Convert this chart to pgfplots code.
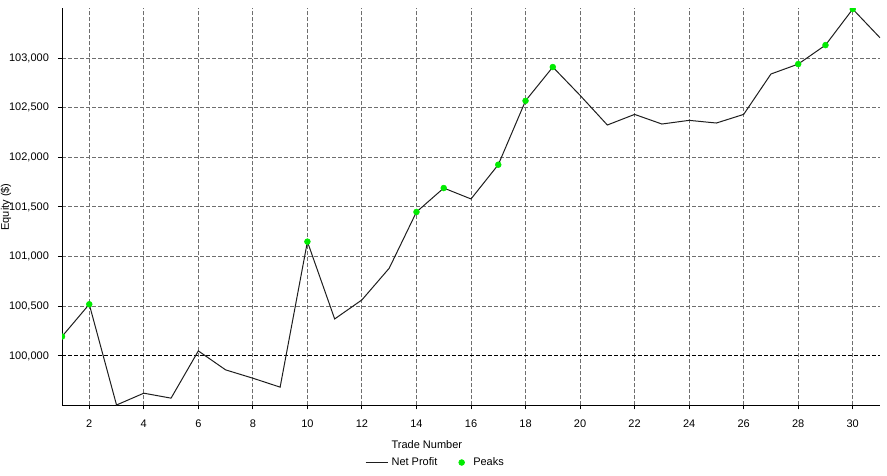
\documentclass[border=0pt]{standalone}
\usepackage{fontspec}
\setmainfont{Liberation Sans}
\usepackage{pgfplots}
\pgfplotsset{compat=1.18}
\definecolor{gridgray}{RGB}{110,110,110}
\definecolor{peakgreen}{RGB}{0,235,0}
\definecolor{linecol}{RGB}{30,30,30}
\begin{document}
\begin{tikzpicture}
\begin{axis}[
  name=ax, scale only axis, width=613.5pt, height=297.75pt,
  xmin=1, xmax=31, ymin=99500, ymax=103500,
  xtick={2,4,...,30}, ytick={100000,100500,...,103000},
  axis x line=bottom, axis y line=left,
  axis line style={-, black, line width=0.75pt},
  tick align=outside, major tick length=3pt,
  tick style={black, line width=0.75pt},
  grid=major,
  major grid style={gridgray, line width=0.75pt, dash pattern=on 3pt off 1.5pt},
  scaled y ticks=false,
  y tick label style={/pgf/number format/fixed, /pgf/number format/1000 sep={,}},
  /pgf/number format/assume math mode=true,
  ticklabel style={font=\fontsize{8.25}{10}\selectfont},
  y tick label style={xshift=-3.3pt},
  x tick label style={yshift=-4.5pt},
  label style={font=\fontsize{8.25}{10}\selectfont},
  xlabel={Trade Number},
  xlabel style={at={(axis description cs:0.446,-0.098)}, anchor=center},
  ylabel={Equity (\$)},
  ylabel style={at={(axis description cs:-0.0752,0.5)}, anchor=north, inner sep=0pt},
  clip marker paths=true,
  legend columns=2,
  legend style={at={(0.457,-0.1436)}, anchor=center, draw=none, fill=none,
    font=\fontsize{8.25}{10}\selectfont, inner sep=0pt,
    /tikz/every even column/.append style={column sep=14pt}},
  legend cell align=left,
]
\addplot[black, line width=0.75pt, dash pattern=on 3pt off 1.5pt, forget plot] coordinates {(1,100000) (31,100000)};
\addplot[linecol, line width=0.75pt, mark=none] coordinates {
(1,100195) (2,100520) (3,99505) (4,99624) (5,99574) (6,100050) (7,99859) (8,99775)
(9,99685) (10,101151) (11,100372) (12,100564) (13,100883) (14,101450) (15,101691)
(16,101581) (17,101926) (18,102570) (19,102910) (20,102625) (21,102326) (22,102433)
(23,102336) (24,102373) (25,102346) (26,102433) (27,102840) (28,102940) (29,103131)
(30,103494) (31,103205)};
\addlegendentry{Net Profit}
\addplot[only marks, mark=*, mark size=2.2pt, color=peakgreen] coordinates {
(1,100195) (2,100520) (10,101151) (14,101450) (15,101691) (17,101926) (18,102570)
(19,102910) (28,102940) (29,103131) (30,103494)};
\addlegendentry{\hspace{4.5pt}Peaks}
\end{axis}
\pgfresetboundingbox
\path[use as bounding box] ([xshift=-46.5pt,yshift=-52.3pt]ax.south west) rectangle ([xshift=5.25pt,yshift=6.375pt]ax.north east);
\end{tikzpicture}
\end{document}
